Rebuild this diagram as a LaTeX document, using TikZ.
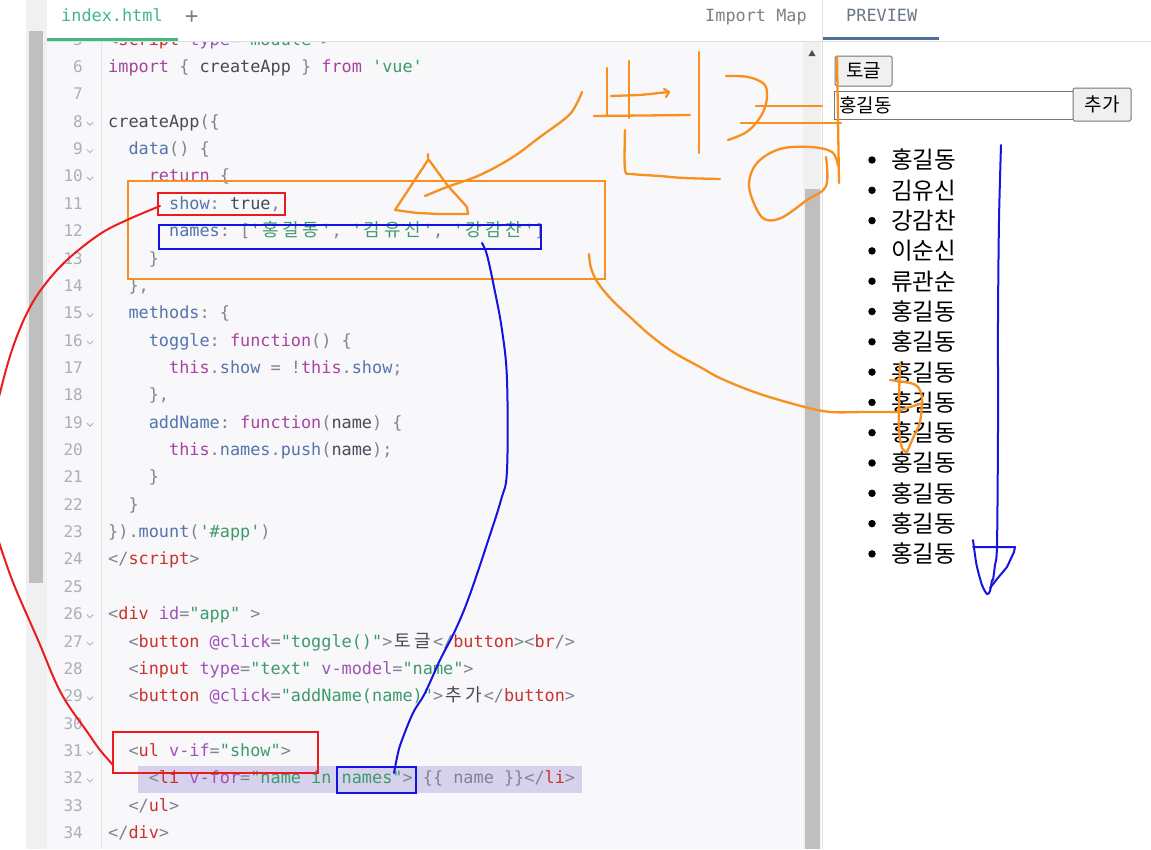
\documentclass[tikz,border=0pt]{standalone}
\usepackage{fontspec}
\setmonofont{DejaVu Sans Mono}
\newfontfamily\cjk{Noto Sans CJK KR}
\definecolor{ckw}{HTML}{A8449F}
\definecolor{cpr}{HTML}{5474AC}
\definecolor{cpl}{HTML}{454B57}
\definecolor{cpu}{HTML}{7F848E}
\definecolor{cst}{HTML}{3D9A6C}
\definecolor{ctg}{HTML}{C8322E}
\definecolor{cat}{HTML}{A052B8}
\definecolor{lnc}{HTML}{A9B0BC}
\definecolor{codebg}{HTML}{F8F7FA}
\definecolor{hlbg}{HTML}{D6D1EC}
\definecolor{prevc}{HTML}{6B7785}
\definecolor{prevline}{HTML}{4F6F95}
\definecolor{ora}{HTML}{F7901E}
\definecolor{inkred}{HTML}{EC1C1C}
\definecolor{inkblue}{HTML}{1414E0}
\definecolor{vuegreen}{HTML}{42B883}
\newcommand\cKw[1]{\textcolor{ckw}{#1}}
\newcommand\cPr[1]{\textcolor{cpr}{#1}}
\newcommand\cPl[1]{\textcolor{cpl}{#1}}
\newcommand\cPu[1]{\textcolor{cpu}{#1}}
\newcommand\cSt[1]{\textcolor{cst}{#1}}
\newcommand\cTg[1]{\textcolor{ctg}{#1}}
\newcommand\cAt[1]{\textcolor{cat}{#1}}
\newcommand\sq{\symbol{39}}
\newcommand\dq{\symbol{34}}
\newcommand\kc[1]{\makebox[20.3pt]{\cjk\fontsize{18}{18}\selectfont#1}}
\newcommand\codeln[3]{\node[code] (c#1) at ({108+#2*10.15},{72.5+(#1-6)*27.36}) {#3};}
\tikzset{
  code/.style={anchor=base west, inner sep=0pt, font=\ttfamily\fontsize{16.86}{16.86}\selectfont},
  lnum/.style={anchor=base east, inner sep=0pt, text=lnc, font=\ttfamily\fontsize{16}{16}\selectfont},
  ink/.style={line width=2.3pt, line cap=round, line join=round},
  btn/.style={draw=black!54, fill=black!6, rounded corners=1.5pt, line width=1pt},
  litem/.style={anchor=west, inner sep=0pt, font=\cjk\fontsize{23.5}{23.5}\selectfont},
  bul/.style={circle, fill=black, inner sep=0pt, minimum size=7.5pt}
}
\begin{document}
\begin{tikzpicture}[x=1pt,y=-1pt]
\useasboundingbox (0,0) rectangle (1151,849);
% backgrounds
\fill[white] (0,0) rectangle (1151,849);
\fill[codebg] (47,42) rectangle (803,849);
\fill[black!6] (26,0) rectangle (47,849);
\fill[black!25] (29,31) rectangle (43,583);
\draw[black!10] (101,42) -- (101,849);
% highlight line 32
\fill[hlbg] (138,766) rectangle (582,793);
% line numbers
\foreach \n in {5,...,34} \node[lnum] (n\n) at (83,{72.5+(\n-6)*27.36}) {\n};
\foreach \n in {8,9,10,15,16,19,26,27,29,31,32}
  \draw[lnc, line width=0.8pt] (87,{67.5+(\n-6)*27.36}) -- (90,{70.5+(\n-6)*27.36}) -- (93,{67.5+(\n-6)*27.36});
% code
\codeln{5}{0}{\cPu{<}\cTg{script} \cAt{type}\cPu{=}\cSt{\dq module\dq}\cPu{>}}
\codeln{6}{0}{\cKw{import} \cPu{\{} \cPl{createApp} \cPu{\}} \cKw{from} \cSt{\sq vue\sq}}
\codeln{8}{0}{\cPl{createApp}\cPu{(\{}}
\codeln{9}{2}{\cPr{data}\cPu{() \{}}
\codeln{10}{4}{\cKw{return} \cPu{\{}}
\codeln{11}{6}{\cPr{show}\cPu{:} \cPl{true}\cPu{,}}
\codeln{12}{6}{\cPr{names}\cPu{:} \cPu{[}\cSt{\sq\kc{홍}\kc{길}\kc{동}\sq}\cPu{,} \cSt{\sq\kc{김}\kc{유}\kc{신}\sq}\cPu{,} \cSt{\sq\kc{강}\kc{감}\kc{찬}\sq}\cPu{]}}
\codeln{13}{4}{\cPu{\}}}
\codeln{14}{2}{\cPu{\},}}
\codeln{15}{2}{\cPr{methods}\cPu{: \{}}
\codeln{16}{4}{\cPr{toggle}\cPu{:} \cKw{function}\cPu{() \{}}
\codeln{17}{6}{\cKw{this}\cPu{.}\cPr{show} \cPu{=} \cPu{!}\cKw{this}\cPu{.}\cPr{show}\cPu{;}}
\codeln{18}{4}{\cPu{\},}}
\codeln{19}{4}{\cPr{addName}\cPu{:} \cKw{function}\cPu{(}\cPl{name}\cPu{) \{}}
\codeln{20}{6}{\cKw{this}\cPu{.}\cPr{names}\cPu{.}\cPr{push}\cPu{(}\cPl{name}\cPu{);}}
\codeln{21}{4}{\cPu{\}}}
\codeln{22}{2}{\cPu{\}}}
\codeln{23}{0}{\cPu{\}).}\cPr{mount}\cPu{(}\cSt{\sq\#app\sq}\cPu{)}}
\codeln{24}{0}{\cPu{</}\cTg{script}\cPu{>}}
\codeln{26}{0}{\cPu{<}\cTg{div} \cAt{id}\cPu{=}\cSt{\dq app\dq} \cPu{>}}
\codeln{27}{2}{\cPu{<}\cTg{button} \cAt{@click}\cPu{=}\cSt{\dq toggle()\dq}\cPu{>}\cPl{\kc{토}\kc{글}}\cPu{</}\cTg{button}\cPu{><}\cTg{br}\cPu{/>}}
\codeln{28}{2}{\cPu{<}\cTg{input} \cAt{type}\cPu{=}\cSt{\dq text\dq} \cAt{v-model}\cPu{=}\cSt{\dq name\dq}\cPu{>}}
\codeln{29}{2}{\cPu{<}\cTg{button} \cAt{@click}\cPu{=}\cSt{\dq addName(name)\dq}\cPu{>}\cPl{\kc{추}\kc{가}}\cPu{</}\cTg{button}\cPu{>}}
\codeln{31}{2}{\cPu{<}\cTg{ul} \cAt{v-if}\cPu{=}\cSt{\dq show\dq}\cPu{>}}
\codeln{32}{4}{\cPu{<}\cTg{li} \cAt{v-for}\cPu{=}\cSt{\dq name in names\dq}\cPu{>} \cPu{\{\{ name \}\}</}\cTg{li}\cPu{>}}
\codeln{33}{2}{\cPu{</}\cTg{ul}\cPu{>}}
\codeln{34}{0}{\cPu{</}\cTg{div}\cPu{>}}
% code scrollbar
\fill[black!6] (803,42) rectangle (821,849);
\fill[black!25] (805,189) rectangle (820,849);
\fill[black!70] (808.5,56) -- (815.5,56) -- (812,50) -- cycle;
\draw[black!12, line width=1pt] (822,0) -- (822,849);
% tab bar
\fill[white] (47,0) rectangle (1151,41);
\draw[black!12, line width=1pt] (47,41.5) -- (1151,41.5);
\draw[black!12, line width=1pt] (822,0) -- (822,41);
\node[code, text=vuegreen] (tab) at (61,21.5) {index.html};
\node[code, text=black!50, font=\ttfamily\fontsize{22}{22}\selectfont] (plus) at (185,23) {+};
\fill[vuegreen] (47,38) rectangle (178,41);
\node[code, text=black!50] (imap) at (705,21.5) {Import Map};
\node[code, text=prevc] (prev) at (846,21.5) {PREVIEW};
\fill[prevline] (823,37) rectangle (939,40);
% preview widgets
\draw[btn] (835,56) rectangle node[font=\cjk\fontsize{19}{19}\selectfont] (tg) {토글} (892,86);
\draw[draw=black!54, fill=white, line width=1pt] (834,91) rectangle (1073,119);
\node[anchor=west, inner sep=0pt, font=\cjk\fontsize{19}{19}\selectfont] (inp) at (839,105) {홍길동};
\draw[btn] (1073,88) rectangle node[font=\cjk\fontsize{19}{19}\selectfont] (add) {추가} (1131,121);
\foreach \t [count=\i from 0] in {홍길동,김유신,강감찬,이순신,류관순,홍길동,홍길동,홍길동,홍길동,홍길동,홍길동,홍길동,홍길동,홍길동} {
  \node[bul] (b\i) at (872,{160+\i*30.3}) {};
  \node[litem] (li\i) at (891,{160+\i*30.3}) {\t};
}
% annotation boxes
\draw[ora, line width=2.2pt] (128,181) rectangle (605,279);
\draw[inkred, line width=2pt] (158,193) rectangle (285,215);
\draw[inkblue, line width=2pt] (159,225) rectangle (541,249);
\draw[inkred, line width=2pt] (113,732) rectangle (318,773);
\draw[inkblue, line width=2pt] (337,767) rectangle (416,793);
% red curve
\draw[ink, inkred, line width=2pt] plot[smooth, tension=0.6] coordinates {(160,206) (127,220) (100,234) (67,260) (43,287) (27,313) (13,347) (2,385) (-8,430) (-12,480) (-4,530) (6,563) (17,592) (38,640) (61,693) (88,733) (100,750) (113,765)};
% blue curve
\draw[ink, inkblue, line width=2pt] plot[smooth, tension=0.6] coordinates {(482,243) (487,255) (494,287) (502,330) (507,380) (507,470) (501,500) (486,547) (476,577) (469,597) (462,615) (452,637) (440,660) (425,693) (413,713) (402,740) (398,753) (394,773)};
% blue arrow in preview
\draw[ink, inkblue, line width=2pt] plot[smooth, tension=0.5] coordinates {(1001,145) (999,220) (998,320) (998,430) (997,545) (995,565) (993,580)};
\draw[ink, inkblue, line width=2pt] (973,547) -- (1015,547) -- (1014,552) -- (1007,567) -- (997,579) -- (990,588);
\draw[ink, inkblue, line width=2pt] plot[smooth, tension=0.5] coordinates {(973,540) (975,555) (977,567) (982,585) (987,594) (990,591) (992,580)};
% orange strokes: arrow curve and triangle
\draw[ink, ora] plot[smooth, tension=0.6] coordinates {(582,92) (576,105) (567,117) (540,137) (513,157) (480,175) (447,187) (425,196)};
\draw[ink, ora] (428,154) -- (428,160) -- (395,210) -- (417,213) -- (440,214) -- (468,214) -- (467,207) -- (448,186) -- (429,160);
% 변
\draw[ink, ora] (607,68) -- (607,115);
\draw[ink, ora] (629,61) -- (629,118);
\draw[ink, ora] (611,96) -- (640,95) -- (669,92);
\draw[ink, ora] (664,89) -- (669,92) -- (666,97);
\draw[ink, ora] (594,116) -- (690,115);
\draw[ink, ora] (699,52) -- (699,153);
\draw[ink, ora] plot[smooth, tension=0.5] coordinates {(625,130) (625,170) (632,174) (660,176) (684,178) (720,179)};
% 경
\draw[ink, ora] plot[smooth, tension=0.6] coordinates {(726,76) (748,77) (764,84) (767,96) (764,110) (756,123) (745,133) (728,140)};
\draw[ink, ora] (756,106) -- (822,106);
\draw[ink, ora] (741,123) -- (841,123);
\draw[ink, ora] (837,57) -- (839,183);
\draw[ink, ora] plot[smooth, tension=0.6] coordinates {(826,157) (826,186) (807,200) (783,217) (767,220) (757,210) (749,185) (757,163) (780,149) (810,147) (832,152) (838,166)};
% orange connector to list
\draw[ink, ora] plot[smooth, tension=0.6] coordinates {(589,254) (591,268) (598,283) (612,300) (630,317) (650,335) (673,352) (700,367) (722,379) (760,394) (805,407) (831,412) (865,412) (900,412)};
\draw[ink, ora] plot[smooth, tension=0.5] coordinates {(900,363) (899,400) (899,430) (902,448) (907,452)};
\draw[ink, ora] plot[smooth, tension=0.5] coordinates {(890,380) (910,383) (918,387) (922,398) (920,422) (913,438) (907,452)};
\draw[ink, ora] (900,410) -- (910,407) -- (923,403);
\end{tikzpicture}
\end{document}
